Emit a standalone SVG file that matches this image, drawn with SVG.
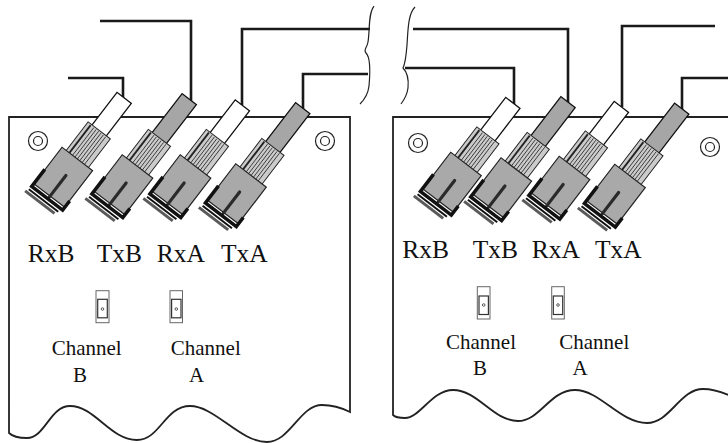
<svg xmlns="http://www.w3.org/2000/svg" xmlns:xlink="http://www.w3.org/1999/xlink" width="728" height="443" viewBox="0 0 728 443">
<style>
.wire{fill:none;stroke:#1a1a1a;stroke-width:2.6}
.brk{fill:none;stroke:#222;stroke-width:1.2}
.board{fill:#fff;stroke:#222;stroke-width:1.8}
.hole{fill:#fff;stroke:#222;stroke-width:1.2}
.tw{fill:#fff;stroke:#111;stroke-width:1.3}
.tg{fill:#a6a6a6;stroke:#111;stroke-width:1.3}
.knurl{fill:#cbcbcb;stroke:#222;stroke-width:1}
.str{stroke:#3a3a3a;stroke-width:0.9}
.body{fill:#a9a9a9;stroke:#222;stroke-width:1.2}
text{font-family:"Liberation Serif","Times New Roman",serif;fill:#111}
.big{font-size:25.5px}
.sm{font-size:21px;text-anchor:middle}
.swo{fill:#fff;stroke:#666;stroke-width:1}
.swi{fill:#fff;stroke:#333;stroke-width:1.2}
</style>
<defs>
<g id="conn">
<rect class="knurl" x="-14" y="-36" width="28" height="38"/>
<g class="str">
<line x1="-6" y1="-35" x2="-6" y2="0"/>
<line x1="-3" y1="-35" x2="-3" y2="0"/>
<line x1="0" y1="-35" x2="0" y2="0"/>
<line x1="3" y1="-35" x2="3" y2="0"/>
<line x1="6" y1="-35" x2="6" y2="0"/>
<line x1="9" y1="-35" x2="9" y2="0"/>
</g>
<line x1="-10" y1="-35" x2="-10" y2="0" stroke="#222" stroke-width="1.8"/>
<rect class="body" x="-19.25" y="0" width="38.5" height="46"/>
<line x1="1" y1="20" x2="1" y2="47" stroke="#2a2a2a" stroke-width="3.2" stroke-linecap="round"/>
<path d="M-19.5,28 V49.5 H19.5 V38" fill="none" stroke="#111" stroke-width="3.5"/>
<path d="M-20,53.5 H17" stroke="#111" stroke-width="2"/>
<path d="M-22,57 H15" stroke="#5a5a5a" stroke-width="3"/>
</g>
</defs>

<g id="connectors">
<path class="wire" d="M68,78 H123 V99"/>
<path class="wire" d="M100,21 H191 V101"/>
<path class="wire" d="M242,105 V29 H370"/>
<path class="wire" d="M303,109 V74 H368"/>
<path class="wire" d="M413,29 H568 V103"/>
<path class="wire" d="M405,68 H514 V104"/>
<path class="wire" d="M622,107 V26 H715"/>
<path class="wire" d="M682,110 V78 H730"/>
<path class="brk" d="M374,6 C368,14 370,30 368,42 C367,48 363,50 366,53 C371,58 370,75 369,86 C368,95 364,100 360,104"/>
<path class="brk" d="M415,7 C408,14 408,30 407,45 C406,58 405,64 403,68 C407,72 409,78 408,88 C407,96 404,100 401,104"/>
</g>

<g id="board-left">
<path class="board" d="M9,433 V117 H350 V412 C340,407 332,405 322,405 C300,405 290,442 267,442 C240,442 215,406 190,406 C165,406 160,440 137,440 C110,440 95,406 70,406 C50,406 45,438 27,438 C18,438 12,436 9,433 Z"/>
<circle class="hole" cx="38" cy="141" r="9.5"/><circle class="hole" cx="38" cy="141" r="4.5"/>
<circle class="hole" cx="325" cy="141" r="9.5"/><circle class="hole" cx="325" cy="141" r="4.5"/>
</g>
<g id="board-right">
<path class="board" d="M393,415 V117 H731 V396 C722,392 714,389 703,389 C680,389 670,423 647,423 C620,423 600,390 575,390 C550,390 540,421 518,421 C493,421 478,390 453,390 C432,390 420,418 405,418 C398,418 395,417 393,415 Z"/>
<circle class="hole" cx="418" cy="143" r="9.5"/><circle class="hole" cx="418" cy="143" r="4.5"/>
<circle class="hole" cx="710" cy="147" r="9.5"/><circle class="hole" cx="710" cy="147" r="4.5"/>
</g>

<g id="left-rxb" transform="translate(77.3,159) rotate(37.5)"><rect class="tw" x="-9" y="-77" width="18" height="47"/><use xlink:href="#conn"/></g>
<g id="left-txb" transform="translate(137.5,166.5) rotate(37.5)"><rect class="tg" x="-9" y="-85" width="18" height="55"/><use xlink:href="#conn"/></g>
<g id="left-rxa" transform="translate(195.5,166.5) rotate(37.5)"><rect class="tw" x="-9" y="-77" width="18" height="47"/><use xlink:href="#conn"/></g>
<g id="left-txa" transform="translate(251,175.5) rotate(37.5)"><rect class="tg" x="-9" y="-85" width="18" height="55"/><use xlink:href="#conn"/></g>
<g id="right-rxb" transform="translate(466,164) rotate(37.5)"><rect class="tw" x="-9" y="-77" width="18" height="47"/><use xlink:href="#conn"/></g>
<g id="right-txb" transform="translate(516.3,169.5) rotate(37.5)"><rect class="tg" x="-9" y="-85" width="18" height="55"/><use xlink:href="#conn"/></g>
<g id="right-rxa" transform="translate(574.5,168) rotate(37.5)"><rect class="tw" x="-9" y="-77" width="18" height="47"/><use xlink:href="#conn"/></g>
<g id="right-txa" transform="translate(630,176) rotate(37.5)"><rect class="tg" x="-9" y="-85" width="18" height="55"/><use xlink:href="#conn"/></g>

<g id="labels-left">
<text class="big" x="27.7" y="261.7" font-family="Liberation Serif, serif">RxB</text>
<text class="big" x="96.7" y="261.7" font-family="Liberation Serif, serif">TxB</text>
<text class="big" x="156.7" y="261.7" font-family="Liberation Serif, serif">RxA</text>
<text class="big" x="221" y="261.7" font-family="Liberation Serif, serif">TxA</text>
</g>
<g id="labels-right">
<text class="big" x="402.3" y="258.3" font-family="Liberation Serif, serif">RxB</text>
<text class="big" x="472.7" y="258.3" font-family="Liberation Serif, serif">TxB</text>
<text class="big" x="531.7" y="258.3" font-family="Liberation Serif, serif">RxA</text>
<text class="big" x="595" y="258.3" font-family="Liberation Serif, serif">TxA</text>
</g>

<g id="switch-left-b">
<rect class="swo" x="96" y="290.7" width="13" height="32"/>
<rect class="swi" x="97.7" y="299.3" width="9.6" height="18.5"/>
<circle cx="102.5" cy="309" r="1.3" fill="none" stroke="#333" stroke-width="0.8"/>
<text class="sm" x="86.7" y="355" font-family="Liberation Serif, serif">Channel</text>
<text class="sm" x="80" y="381.7" font-family="Liberation Serif, serif">B</text>
</g>
<g id="switch-left-a">
<rect class="swo" x="170" y="290.7" width="12.5" height="32"/>
<rect class="swi" x="171.6" y="299.3" width="9.4" height="18.5"/>
<circle cx="176.3" cy="309" r="1.3" fill="none" stroke="#333" stroke-width="0.8"/>
<text class="sm" x="205.8" y="355" font-family="Liberation Serif, serif">Channel</text>
<text class="sm" x="196.7" y="381.7" font-family="Liberation Serif, serif">A</text>
</g>
<g id="switch-right-b">
<rect class="swo" x="477.3" y="286.7" width="12.7" height="32.3"/>
<rect class="swi" x="479" y="296" width="9.4" height="18.5"/>
<circle cx="483.7" cy="305" r="1.3" fill="none" stroke="#333" stroke-width="0.8"/>
<text class="sm" x="481" y="349.3" font-family="Liberation Serif, serif">Channel</text>
<text class="sm" x="480" y="375" font-family="Liberation Serif, serif">B</text>
</g>
<g id="switch-right-a">
<rect class="swo" x="551.7" y="286.7" width="12.6" height="32.3"/>
<rect class="swi" x="553.3" y="296" width="9.4" height="18.5"/>
<circle cx="558" cy="305" r="1.3" fill="none" stroke="#333" stroke-width="0.8"/>
<text class="sm" x="594.3" y="349.3" font-family="Liberation Serif, serif">Channel</text>
<text class="sm" x="580" y="375" font-family="Liberation Serif, serif">A</text>
</g>
</svg>
